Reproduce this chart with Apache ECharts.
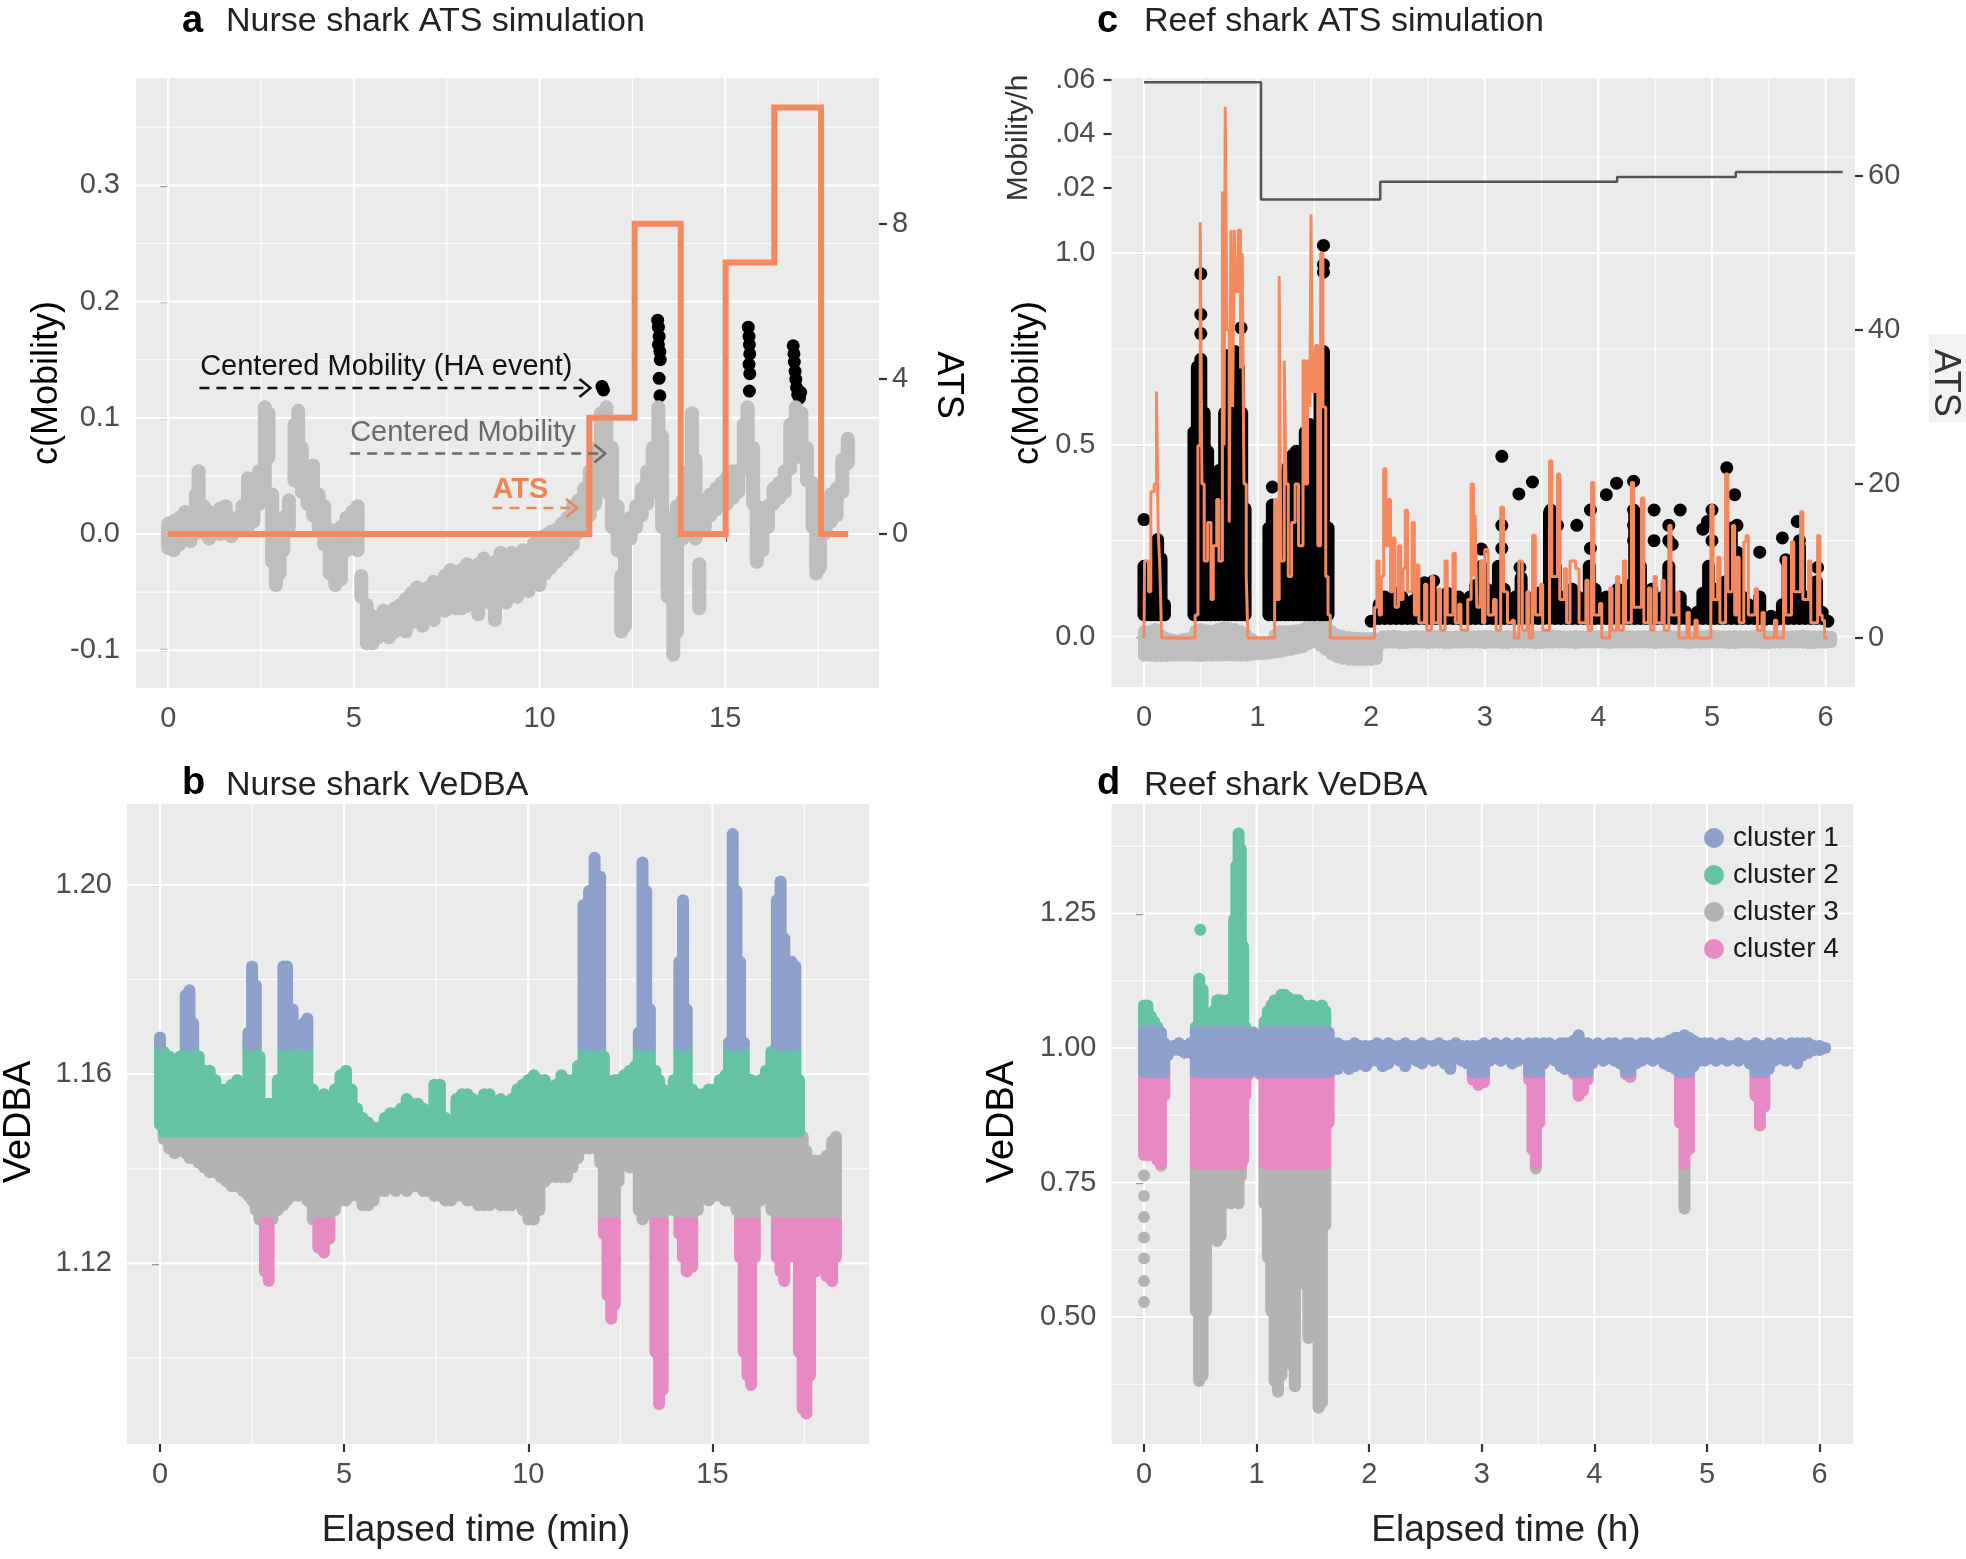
<!DOCTYPE html>
<html><head><meta charset="utf-8">
<script src="https://cdn.jsdelivr.net/npm/echarts@6/dist/echarts.min.js"></script>
<style>html,body{margin:0;padding:0;background:#fff}#c{width:1966px;height:1559px}</style>
</head><body><div id="c"></div>
<script>
// ================= DATA =================
// Panel a: nurse shark ATS simulation (time in min)
const NURSE_X_TICKS = [0, 5, 10, 15];
const NURSE_X_MINOR = [2.5, 7.5, 12.5, 17.5];
const NURSE_MOB_TICKS = [-0.1, 0, 0.1, 0.2, 0.3];
const NURSE_MOB_MINOR = [-0.05, 0.05, 0.15, 0.25, 0.35];
const NURSE_ATS_TICKS = [-4, 0, 4, 8];
// ATS step changes [time, new ATS value]
const NURSE_ATS_STEPS = [[0,0],[11.34,3],[12.56,8],[13.80,0],[15.01,7],[16.32,11],[17.58,0],[18.31,0]];
// Centered mobility (grey) columns [time, low, high]
const NURSE_GREY_COLS = [
[0.0,-0.018,0.015],[0.15,-0.02,0.017],[0.3,-0.015,0.02],[0.45,-0.01,0.025],[0.6,-0.012,0.022],[0.75,-0.005,0.04],[0.82,0.0,0.06],[0.95,-0.005,0.03],[1.1,-0.01,0.025],[1.25,-0.005,0.02],[1.4,-0.006,0.028],[1.55,-0.004,0.03],[1.7,-0.008,0.018],[1.85,-0.002,0.02],[2.0,0.005,0.03],[2.15,0.0,0.054],[2.3,0.005,0.045],[2.45,0.02,0.06],[2.6,0.035,0.115],[2.7,0.06,0.11],[2.8,-0.03,0.04],[2.9,-0.05,0.01],[3.0,-0.04,0.005],[3.1,-0.02,0.02],[3.25,0.0,0.035],[3.4,0.04,0.1],[3.5,0.05,0.112],[3.6,0.03,0.08],[3.75,0.02,0.06],[3.9,0.01,0.065],[4.05,0.0,0.04],[4.2,-0.015,0.03],[4.35,-0.04,0.01],[4.5,-0.05,0.0],[4.65,-0.045,0.012],[4.8,-0.02,0.02],[4.95,-0.01,0.025],[5.1,-0.02,0.03],[5.2,-0.06,-0.03],[5.35,-0.1,-0.055],[5.5,-0.1,-0.065],[5.65,-0.095,-0.07],[5.8,-0.092,-0.06],[5.95,-0.095,-0.065],[6.1,-0.09,-0.058],[6.25,-0.085,-0.055],[6.4,-0.09,-0.05],[6.55,-0.082,-0.045],[6.7,-0.08,-0.04],[6.85,-0.085,-0.05],[7.0,-0.075,-0.04],[7.15,-0.08,-0.035],[7.3,-0.07,-0.038],[7.45,-0.072,-0.03],[7.6,-0.065,-0.025],[7.75,-0.07,-0.03],[7.9,-0.07,-0.025],[8.05,-0.068,-0.02],[8.2,-0.06,-0.025],[8.35,-0.075,-0.02],[8.5,-0.06,-0.015],[8.65,-0.065,-0.02],[8.8,-0.08,-0.018],[8.95,-0.06,-0.01],[9.1,-0.065,-0.015],[9.25,-0.055,-0.01],[9.4,-0.06,-0.012],[9.55,-0.05,-0.008],[9.7,-0.055,-0.01],[9.85,-0.045,-0.002],[10.0,-0.05,-0.005],[10.15,-0.04,0.005],[10.3,-0.035,0.008],[10.45,-0.03,0.01],[10.6,-0.025,0.015],[10.75,-0.02,0.02],[10.9,-0.015,0.03],[11.05,-0.005,0.035],[11.2,0.0,0.045],[11.35,0.01,0.06],[11.5,0.02,0.08],[11.65,0.04,0.11],[11.8,0.03,0.115],[11.95,0.0,0.08],[12.1,-0.02,0.03],[12.2,-0.09,-0.03],[12.3,-0.085,0.0],[12.45,-0.01,0.02],[12.6,0.0,0.03],[12.75,0.01,0.045],[12.9,0.02,0.06],[13.05,0.03,0.08],[13.2,0.05,0.115],[13.3,0.0,0.09],[13.45,-0.06,0.02],[13.6,-0.11,-0.02],[13.7,-0.09,0.03],[13.85,-0.01,0.035],[14.0,0.0,0.06],[14.1,0.04,0.11],[14.2,-0.01,0.07],[14.3,-0.07,-0.02],[14.45,0.0,0.035],[14.6,0.01,0.04],[14.75,0.015,0.045],[14.9,0.02,0.05],[15.05,0.02,0.055],[15.2,0.025,0.06],[15.35,0.03,0.06],[15.5,0.05,0.1],[15.6,0.06,0.115],[15.75,0.02,0.08],[15.85,-0.03,0.03],[16.0,-0.02,0.02],[16.15,0.0,0.03],[16.3,0.02,0.045],[16.45,0.025,0.05],[16.6,0.03,0.06],[16.75,0.05,0.1],[16.9,0.07,0.115],[17.05,0.06,0.11],[17.2,0.04,0.08],[17.35,0.0,0.05],[17.45,-0.04,0.01],[17.55,-0.035,0.0],[17.7,-0.005,0.03],[17.85,0.005,0.04],[18.0,0.01,0.045],[18.15,0.03,0.07],[18.3,0.055,0.088]
];
// Centered mobility during HA events (black points) [time, value, value]
const NURSE_HA_POINTS = [
[11.68,0.127,0.127],[11.72,0.124,0.124],[13.18,0.184,0.184],[13.2,0.178,0.178],[13.22,0.17,0.17],[13.2,0.163,0.163],[13.24,0.157,0.157],[13.25,0.15,0.15],[13.22,0.134,0.134],[13.24,0.119,0.119],
[15.62,0.178,0.178],[15.64,0.17,0.17],[15.65,0.163,0.163],[15.66,0.155,0.155],[15.64,0.146,0.146],[15.66,0.138,0.138],[15.65,0.123,0.123],
[16.83,0.162,0.162],[16.85,0.155,0.155],[16.86,0.148,0.148],[16.88,0.14,0.14],[16.9,0.133,0.133],[16.92,0.126,0.126],[16.95,0.12,0.12],[17.0,0.117,0.117],[17.03,0.122,0.122]
];

// Panel b: nurse shark VeDBA columns [time, low, high]
const NURSE_VEDBA_TICKS = [1.12, 1.16, 1.20];
const NURSE_VEDBA_MINOR = [1.10, 1.14, 1.18];
const NURSE_CLUSTER_BANDS = {'cluster 1':[1.1662,9],'cluster 2':[1.1478,1.1662],'cluster 3':[1.1285,1.1478],'cluster 4':[-9,1.1285]};
const NURSE_VEDBA_COLS = [
[0.0,1.148,1.169],[0.1,1.145,1.166],[0.25,1.143,1.165],[0.4,1.142,1.164],[0.55,1.143,1.165],[0.7,1.142,1.178],[0.8,1.141,1.179],[0.9,1.141,1.172],[1.05,1.14,1.165],[1.2,1.139,1.162],[1.35,1.138,1.162],[1.5,1.138,1.16],[1.65,1.137,1.158],[1.8,1.136,1.158],[1.95,1.135,1.159],[2.1,1.135,1.16],[2.25,1.134,1.158],[2.4,1.133,1.17],[2.5,1.132,1.184],[2.6,1.13,1.18],[2.7,1.128,1.165],[2.85,1.117,1.155],[2.95,1.115,1.155],[3.05,1.128,1.155],[3.2,1.13,1.16],[3.35,1.131,1.184],[3.45,1.132,1.184],[3.6,1.133,1.175],[3.75,1.133,1.165],[3.9,1.134,1.172],[4.0,1.132,1.173],[4.15,1.128,1.158],[4.3,1.122,1.156],[4.45,1.121,1.157],[4.6,1.124,1.156],[4.75,1.13,1.158],[4.9,1.132,1.161],[5.05,1.132,1.162],[5.2,1.133,1.158],[5.35,1.133,1.154],[5.5,1.131,1.152],[5.65,1.131,1.151],[5.8,1.132,1.15],[5.95,1.134,1.15],[6.1,1.134,1.152],[6.25,1.135,1.153],[6.4,1.134,1.153],[6.55,1.135,1.154],[6.7,1.134,1.156],[6.85,1.135,1.155],[7.0,1.135,1.155],[7.15,1.134,1.154],[7.3,1.134,1.152],[7.45,1.133,1.159],[7.6,1.133,1.159],[7.75,1.132,1.152],[7.9,1.132,1.151],[8.05,1.133,1.156],[8.2,1.133,1.157],[8.35,1.132,1.157],[8.5,1.132,1.156],[8.65,1.131,1.155],[8.8,1.131,1.157],[8.95,1.131,1.157],[9.1,1.132,1.155],[9.25,1.131,1.156],[9.4,1.131,1.155],[9.55,1.131,1.156],[9.7,1.132,1.158],[9.85,1.13,1.159],[10.0,1.128,1.16],[10.15,1.128,1.161],[10.3,1.13,1.16],[10.45,1.136,1.16],[10.6,1.137,1.158],[10.75,1.137,1.159],[10.9,1.137,1.161],[11.05,1.137,1.16],[11.2,1.139,1.16],[11.35,1.141,1.163],[11.5,1.143,1.197],[11.65,1.143,1.2],[11.8,1.143,1.207],[11.95,1.14,1.203],[12.05,1.125,1.165],[12.15,1.112,1.16],[12.25,1.107,1.158],[12.35,1.11,1.16],[12.45,1.136,1.16],[12.6,1.14,1.161],[12.75,1.139,1.162],[12.9,1.139,1.163],[13.0,1.13,1.17],[13.1,1.128,1.206],[13.2,1.129,1.2],[13.3,1.13,1.175],[13.45,1.1,1.162],[13.55,1.089,1.16],[13.65,1.092,1.158],[13.8,1.13,1.156],[13.95,1.13,1.16],[14.1,1.125,1.185],[14.2,1.12,1.198],[14.3,1.117,1.175],[14.45,1.118,1.158],[14.6,1.13,1.157],[14.75,1.133,1.157],[14.9,1.132,1.158],[15.05,1.133,1.158],[15.2,1.133,1.16],[15.35,1.132,1.161],[15.45,1.132,1.168],[15.55,1.132,1.212],[15.65,1.13,1.2],[15.75,1.12,1.185],[15.85,1.1,1.168],[15.95,1.095,1.16],[16.05,1.093,1.16],[16.15,1.12,1.158],[16.3,1.132,1.16],[16.45,1.133,1.162],[16.6,1.13,1.166],[16.75,1.12,1.198],[16.85,1.117,1.202],[16.95,1.115,1.19],[17.05,1.12,1.175],[17.15,1.127,1.185],[17.25,1.12,1.184],[17.35,1.1,1.16],[17.45,1.088,1.148],[17.55,1.087,1.145],[17.65,1.095,1.143],[17.8,1.117,1.143],[17.95,1.118,1.143],[18.1,1.116,1.144],[18.25,1.115,1.147],[18.35,1.12,1.148]
];

// Panel c: reef shark ATS simulation (time in h)
const REEF_X_TICKS = [0, 1, 2, 3, 4, 5, 6];
const REEF_X_MINOR = [0.5, 1.5, 2.5, 3.5, 4.5, 5.5];
const REEF_MOB_TICKS = [0, 0.5, 1.0];
const REEF_MOB_MINOR = [0.25, 0.75, 1.25];
const REEF_ATS_TICKS = [0, 20, 40, 60];
const REEF_RATE_TICKS = [0.02, 0.04, 0.06];
// Mobility per hour steps [time, value]
const REEF_RATE_STEPS = [[0,0.0592],[1.03,0.0156],[2.08,0.0222],[4.165,0.0239],[5.21,0.0258],[6.15,0.0258]];
// ATS steps [time, new ATS value]
const REEF_ATS_STEPS = [
[0,0],[0.005,10],[0.04,6],[0.06,19],[0.09,20],[0.11,32],[0.125,14],[0.14,9],[0.155,0],
[0.45,3],[0.475,25],[0.495,54],[0.51,20],[0.53,10],[0.56,15],[0.59,5],[0.61,12],[0.64,18],[0.66,10],[0.69,58],[0.705,25],[0.715,69],[0.73,40],[0.75,15],[0.765,53],[0.78,30],[0.795,53],[0.81,45],[0.83,53],[0.85,35],[0.865,50],[0.88,20],[0.9,8],[0.915,0],
[1.15,18],[1.17,5],[1.19,47],[1.205,10],[1.235,36],[1.25,20],[1.27,8],[1.3,15],[1.33,20],[1.36,12],[1.4,36],[1.42,20],[1.44,36],[1.46,30],[1.47,55],[1.485,32],[1.51,38],[1.53,12],[1.555,50],[1.575,30],[1.6,8],[1.62,3],[1.64,0],
[2.0,0],[2.03,4],[2.05,10],[2.07,3],[2.09,8],[2.11,22],[2.13,12],[2.15,18],[2.17,6],[2.19,13],[2.21,4],[2.24,12],[2.26,5],[2.28,9],[2.3,16.6],[2.32,6],[2.36,15],[2.38,3],[2.4,9.5],[2.42,2],[2.47,7],[2.49,1],[2.53,8],[2.55,2],[2.59,6.4],[2.61,1],[2.65,10],[2.67,3],[2.72,11],[2.74,2],[2.77,4.4],[2.79,1],[2.85,5],[2.88,20],[2.9,8],[2.915,16],[2.93,4],[2.96,10],[2.98,2],
[3.0,11.5],[3.03,3],[3.076,5],[3.1,1],[3.14,17],[3.165,6],[3.2,2],[3.24,2.3],[3.26,0],[3.3,10],[3.33,1],[3.37,6],[3.39,0],[3.42,13.3],[3.445,3],[3.49,7],[3.51,1],[3.57,23],[3.59,8],[3.64,21.3],[3.66,5],[3.7,9],[3.72,2],[3.75,10],[3.8,9],[3.83,2],[3.89,7.5],[3.91,1],[3.94,20.2],[3.96,3],[4.01,4.5],[4.03,0],[4.1,6.5],[4.12,1],[4.16,8],[4.18,1],[4.22,10],[4.24,2],[4.29,20.2],[4.31,4],[4.38,18.2],[4.4,2],[4.44,6.5],[4.46,1],[4.49,8],[4.51,2],[4.56,7.5],[4.58,1],[4.62,14.6],[4.64,3],[4.69,5.9],[4.71,0],[4.78,3.3],[4.8,0],[4.85,2.3],[4.87,0],[4.99,17.2],[5.01,5],[5.05,10.5],[5.07,2],[5.12,21.3],[5.14,6],[5.18,14.6],[5.2,3],[5.22,10.5],[5.24,2],[5.28,12.5],[5.3,13.3],[5.32,3],[5.38,6.4],[5.4,1],[5.44,3.3],[5.46,0],[5.55,2.3],[5.57,0],[5.63,10.5],[5.65,3],[5.7,12.5],[5.72,6],[5.78,16.4],[5.8,5],[5.85,10],[5.87,2],[5.93,13.3],[5.95,3],[5.97,2.3],[5.99,0],[6.02,0]
];
// Centered mobility (grey) columns [time, low, high]
const REEF_GREY_COLS = [
[0.0,-0.066,0.03],[0.05,-0.066,0.03],[0.1,-0.067,0.035],[0.15,-0.067,0.02],[0.2,-0.067,0.012],[0.25,-0.066,0.008],[0.3,-0.066,0.006],[0.35,-0.066,0.01],[0.4,-0.066,0.012],[0.45,-0.066,0.03],[0.5,-0.067,0.035],[0.55,-0.066,0.032],[0.6,-0.066,0.03],[0.65,-0.065,0.035],[0.7,-0.065,0.04],[0.75,-0.065,0.038],[0.8,-0.066,0.035],[0.85,-0.066,0.03],[0.9,-0.066,0.02],[0.95,-0.064,0.01],[1.0,-0.062,0.002],[1.05,-0.061,0.002],[1.1,-0.06,0.002],[1.15,-0.058,0.02],[1.2,-0.056,0.03],[1.25,-0.053,0.03],[1.3,-0.05,0.03],[1.35,-0.047,0.032],[1.4,-0.044,0.035],[1.45,-0.035,0.06],[1.5,-0.03,0.078],[1.55,-0.04,0.065],[1.6,-0.05,0.05],[1.65,-0.062,0.03],[1.7,-0.07,0.02],[1.75,-0.074,0.017],[1.8,-0.076,0.015],[1.85,-0.077,0.013],[1.9,-0.077,0.012],[1.95,-0.077,0.012],[2.0,-0.077,0.012],[2.05,-0.074,0.01],
[2.1,-0.033,0.016],[2.15,-0.032,0.017],[2.2,-0.032,0.018],[2.25,-0.033,0.016],[2.3,-0.033,0.015],[2.35,-0.032,0.016],[2.4,-0.031,0.017],[2.45,-0.032,0.016],[2.5,-0.033,0.016],[2.55,-0.032,0.017],[2.6,-0.032,0.018],[2.65,-0.033,0.016],[2.7,-0.033,0.015],[2.75,-0.032,0.016],[2.8,-0.032,0.017],[2.85,-0.031,0.016],[2.9,-0.031,0.016],[2.95,-0.032,0.017],[3.0,-0.033,0.018],[3.05,-0.032,0.017],[3.1,-0.032,0.016],[3.15,-0.033,0.016],[3.2,-0.033,0.017],[3.25,-0.032,0.016],[3.3,-0.031,0.015],[3.35,-0.032,0.016],[3.4,-0.032,0.017],[3.45,-0.033,0.016],[3.5,-0.033,0.016],[3.55,-0.032,0.017],[3.6,-0.032,0.018],[3.65,-0.031,0.017],[3.7,-0.031,0.016],[3.75,-0.032,0.016],[3.8,-0.033,0.017],[3.85,-0.032,0.016],[3.9,-0.032,0.015],[3.95,-0.031,0.016],[4.0,-0.031,0.017],[4.05,-0.032,0.016],[4.1,-0.033,0.016],[4.15,-0.032,0.017],[4.2,-0.032,0.018],[4.25,-0.032,0.017],[4.3,-0.032,0.016],[4.35,-0.031,0.016],[4.4,-0.031,0.017],[4.45,-0.032,0.016],[4.5,-0.033,0.016],[4.55,-0.032,0.017],[4.6,-0.032,0.018],[4.65,-0.031,0.017],[4.7,-0.031,0.016],[4.75,-0.032,0.016],[4.8,-0.033,0.017],[4.85,-0.032,0.016],[4.9,-0.032,0.016],[4.95,-0.031,0.017],[5.0,-0.031,0.018],[5.05,-0.032,0.017],[5.1,-0.032,0.016],[5.15,-0.033,0.016],[5.2,-0.033,0.017],[5.25,-0.032,0.016],[5.3,-0.031,0.016],[5.35,-0.032,0.017],[5.4,-0.032,0.018],[5.45,-0.033,0.017],[5.5,-0.033,0.016],[5.55,-0.032,0.016],[5.6,-0.032,0.017],[5.65,-0.031,0.016],[5.7,-0.031,0.016],[5.75,-0.032,0.017],[5.8,-0.032,0.018],[5.85,-0.033,0.017],[5.9,-0.033,0.016],[5.95,-0.032,0.016],[6.0,-0.032,0.017],[6.05,-0.03,0.015]
];
// Centered mobility during HA events (black) [time, low, high]; single points have low == high
const REEF_HA_COLS = [
[0.0,0.04,0.2],[0.03,0.04,0.15],[0.06,0.04,0.17],[0.09,0.04,0.2],[0.12,0.04,0.27],[0.15,0.04,0.22],[0.18,0.04,0.1],[0.0,0.305,0.305],
[0.44,0.04,0.55],[0.47,0.04,0.72],[0.5,0.04,0.74],[0.53,0.04,0.6],[0.56,0.04,0.5],[0.59,0.04,0.3],[0.5,0.946,0.946],[0.5,0.84,0.84],[0.5,0.79,0.79],
[0.63,0.04,0.38],[0.66,0.04,0.45],
[0.71,0.04,0.6],[0.74,0.04,0.75],[0.77,0.04,0.72],[0.8,0.04,0.76],[0.83,0.04,0.72],[0.86,0.04,0.6],[0.89,0.04,0.35],[0.855,0.805,0.805],
[1.1,0.04,0.3],[1.13,0.04,0.36],[1.17,0.04,0.25],[1.2,0.04,0.3],[1.24,0.04,0.44],[1.27,0.04,0.46],[1.31,0.04,0.49],[1.34,0.04,0.5],[1.38,0.04,0.46],[1.42,0.04,0.55],[1.46,0.04,0.57],[1.5,0.04,0.56],[1.55,0.04,0.75],[1.58,0.04,0.76],[1.62,0.04,0.3],[1.13,0.39,0.39],[1.58,1.02,1.02],[1.58,0.97,0.97],[1.58,0.95,0.95],
[2.0,0.03,0.05],[2.07,0.03,0.1],[2.12,0.03,0.12],[2.17,0.03,0.1],[2.22,0.03,0.13],[2.27,0.03,0.12],[2.32,0.03,0.09],[2.37,0.03,0.11],[2.42,0.03,0.13],[2.47,0.03,0.1],[2.52,0.03,0.14],[2.57,0.03,0.12],[2.62,0.03,0.1],[2.67,0.03,0.13],[2.72,0.03,0.1],[2.77,0.03,0.12],[2.82,0.03,0.09],[2.87,0.03,0.12],[2.92,0.03,0.15],[2.97,0.03,0.2],[3.02,0.03,0.14],[3.07,0.03,0.12],[3.12,0.03,0.2],[3.17,0.03,0.14],[3.22,0.03,0.1],[3.27,0.03,0.12],[3.32,0.03,0.17],[3.37,0.03,0.12],[3.42,0.03,0.1],[3.47,0.03,0.13],[3.52,0.03,0.1],[3.57,0.03,0.34],[3.62,0.03,0.2],[3.67,0.03,0.12],[3.72,0.03,0.1],[3.77,0.03,0.14],[3.82,0.03,0.12],[3.87,0.03,0.1],[3.92,0.03,0.2],[3.97,0.03,0.14],[4.02,0.03,0.1],[4.07,0.03,0.12],[4.12,0.03,0.11],[4.17,0.03,0.14],[4.22,0.03,0.13],[4.27,0.03,0.15],[4.32,0.03,0.34],[4.37,0.03,0.2],[4.42,0.03,0.12],[4.47,0.03,0.14],[4.52,0.03,0.1],[4.57,0.03,0.12],[4.62,0.03,0.2],[4.67,0.03,0.1],[4.72,0.03,0.12],[4.77,0.03,0.08],[4.82,0.03,0.06],[4.87,0.03,0.08],[4.92,0.03,0.13],[4.97,0.03,0.2],[5.02,0.03,0.14],[5.07,0.03,0.1],[5.12,0.03,0.16],[5.17,0.03,0.3],[5.22,0.03,0.22],[5.27,0.03,0.12],[5.32,0.03,0.1],[5.37,0.03,0.08],[5.42,0.03,0.12],[5.47,0.03,0.06],[5.52,0.03,0.07],[5.57,0.03,0.06],[5.62,0.03,0.1],[5.67,0.03,0.2],[5.72,0.03,0.14],[5.77,0.03,0.25],[5.82,0.03,0.12],[5.87,0.03,0.1],[5.92,0.03,0.16],[5.97,0.03,0.08],[6.02,0.03,0.05],
[2.47,0.14,0.14],[2.55,0.145,0.145],[2.97,0.228,0.228],[3.15,0.47,0.47],[3.15,0.29,0.29],[3.15,0.23,0.23],[3.30,0.372,0.372],[3.31,0.18,0.18],[3.42,0.403,0.403],[3.58,0.33,0.33],[3.58,0.29,0.29],[3.58,0.25,0.25],[3.64,0.29,0.29],[3.81,0.29,0.29],[3.93,0.33,0.33],[3.93,0.23,0.23],[4.07,0.37,0.37],[4.16,0.40,0.40],[4.31,0.405,0.405],[4.31,0.33,0.33],[4.31,0.29,0.29],[4.31,0.25,0.25],[4.49,0.33,0.33],[4.49,0.25,0.25],[4.62,0.29,0.29],[4.62,0.25,0.25],[4.65,0.24,0.24],[4.72,0.33,0.33],[4.92,0.28,0.28],[4.96,0.30,0.30],[5.0,0.33,0.33],[5.0,0.25,0.25],[5.13,0.44,0.44],[5.2,0.37,0.37],[5.22,0.29,0.29],[5.22,0.22,0.22],[5.42,0.22,0.22],[5.62,0.257,0.257],[5.65,0.2,0.2],[5.75,0.30,0.30],[5.77,0.25,0.25],[5.93,0.18,0.18]
];

// Panel d: reef shark VeDBA columns [time, low, high]; single points have low == high
const REEF_VEDBA_TICKS = [0.5, 0.75, 1.0, 1.25];
const REEF_VEDBA_MINOR = [0.375, 0.625, 0.875, 1.125, 1.375];
const REEF_CLUSTER_BANDS = {'cluster 2':[1.03,9],'cluster 1':[0.955,1.03],'cluster 4':[0.785,0.955],'cluster 3':[-9,0.785]};
const REEF_VEDBA_COLS = [
[0.0,0.79,1.09],[0.03,0.79,1.09],[0.06,0.79,1.07],[0.09,0.8,1.06],[0.12,0.78,1.05],[0.15,0.77,1.04],[0.18,0.9,1.02],
[0.0,0.763,0.763],[0.0,0.725,0.725],[0.0,0.686,0.686],[0.0,0.648,0.648],[0.0,0.609,0.609],[0.0,0.567,0.567],[0.0,0.528,0.528],
[0.21,0.975,1.015],[0.26,0.985,1.015],[0.31,0.985,1.02],[0.36,0.98,1.015],[0.41,0.98,1.02],
[0.46,0.5,1.05],[0.49,0.37,1.14],[0.5,1.22,1.22],[0.52,0.38,1.12],[0.55,0.5,1.06],[0.58,0.72,1.04],
[0.62,0.75,1.08],[0.65,0.63,1.1],[0.68,0.64,1.1],[0.71,0.7,1.09],[0.74,0.78,1.1],[0.77,0.7,1.1],
[0.8,0.75,1.25],[0.82,0.72,1.35],[0.84,0.7,1.41],[0.86,0.75,1.38],[0.88,0.78,1.2],[0.9,0.9,1.05],
[0.93,0.94,1.03],[0.97,0.95,1.04],[1.0,0.955,1.02],[1.03,0.94,1.03],
[1.07,0.7,1.06],[1.1,0.6,1.08],[1.13,0.5,1.09],[1.16,0.37,1.1],[1.19,0.35,1.1],[1.22,0.38,1.11],[1.25,0.5,1.11],[1.28,0.55,1.105],[1.31,0.4,1.1],[1.34,0.36,1.1],[1.37,0.6,1.1],[1.4,0.62,1.09],[1.43,0.55,1.09],[1.46,0.45,1.085],[1.49,0.6,1.09],[1.52,0.5,1.085],[1.55,0.32,1.08],[1.58,0.33,1.09],[1.61,0.66,1.08],[1.64,0.85,1.04],
[1.68,0.95,1.02],[1.72,0.95,1.02],[1.77,0.96,1.015],[1.82,0.95,1.015],[1.87,0.955,1.02],[1.92,0.96,1.015],[1.97,0.955,1.015],[2.02,0.965,1.015],
[2.07,0.965,1.02],[2.12,0.955,1.015],[2.17,0.96,1.02],[2.22,0.97,1.015],[2.27,0.965,1.015],[2.32,0.955,1.02],[2.37,0.97,1.015],[2.42,0.965,1.015],[2.47,0.96,1.02],[2.52,0.97,1.015],[2.57,0.965,1.015],[2.62,0.97,1.02],[2.67,0.96,1.015],[2.72,0.95,1.015],[2.77,0.97,1.02],[2.82,0.965,1.015],[2.87,0.96,1.015],[2.92,0.93,1.015],[2.97,0.92,1.015],[3.02,0.925,1.02],[3.07,0.965,1.015],
[3.12,0.97,1.02],[3.17,0.965,1.015],[3.22,0.97,1.02],[3.27,0.96,1.015],[3.32,0.965,1.02],[3.37,0.97,1.015],[3.42,0.93,1.02],[3.45,0.8,1.015],[3.48,0.765,1.02],[3.51,0.85,1.015],[3.55,0.96,1.02],[3.6,0.97,1.02],[3.65,0.965,1.015],[3.7,0.955,1.02],[3.74,0.95,1.02],[3.78,0.965,1.02],[3.82,0.94,1.025],[3.86,0.9,1.035],[3.9,0.91,1.02],[3.94,0.93,1.02],[3.98,0.96,1.015],[4.03,0.97,1.02],[4.08,0.965,1.015],[4.13,0.97,1.02],[4.18,0.965,1.02],[4.23,0.96,1.015],[4.28,0.94,1.02],[4.32,0.935,1.02],[4.37,0.96,1.015],[4.42,0.965,1.02],[4.47,0.97,1.02],[4.52,0.965,1.015],[4.57,0.97,1.02],[4.62,0.96,1.02],[4.67,0.955,1.025],[4.72,0.95,1.03],[4.76,0.85,1.03],[4.8,0.69,1.035],[4.84,0.8,1.03],[4.88,0.955,1.025],[4.93,0.965,1.02],[4.98,0.965,1.02],[5.03,0.97,1.02],[5.08,0.965,1.015],[5.13,0.97,1.02],[5.18,0.965,1.015],[5.23,0.97,1.015],[5.28,0.965,1.02],[5.33,0.97,1.015],[5.38,0.96,1.015],[5.43,0.9,1.02],[5.47,0.845,1.015],[5.51,0.88,1.015],[5.55,0.95,1.02],[5.6,0.965,1.015],[5.65,0.97,1.02],[5.7,0.965,1.015],[5.75,0.97,1.02],[5.8,0.96,1.02],[5.85,0.975,1.02],[5.9,0.98,1.02],[5.95,0.985,1.015],[6.0,0.985,1.015],[6.05,0.99,1.01]
];

// ================= STYLE / LAYOUT =================
const FONT = '"Liberation Sans", Arial, Helvetica, sans-serif';
const CLUSTER_COLORS = {'cluster 1':'#8DA0CB','cluster 2':'#66C2A5','cluster 3':'#B3B3B3','cluster 4':'#E78AC3'};
const ORANGE = '#F4895F';
const PANEL_BG = '#EBEBEB';
const A_XR = [-0.867, 19.14], A_YR = [-0.1325, 0.3924], A_Y2R = [-3.97, 11.76];
const B_XR = [-0.896, 19.25], B_YR = [1.0818, 1.2171];
const C_XR = [-0.286, 6.259], C_YR = [-0.1317, 1.4567], C_Y2R = [-6.36, 72.73], C_Y3R = [-0.16565, 0.06074];
const D_XR = [-0.289, 6.297], D_YR = [0.264, 1.4535];

const NURSE_NOTES = [
  {text:'Centered Mobility (HA event)', color:'#111111', bold:false, tx:0.86, ty:0.1437, x0:0.84, x1:11.37, y:0.1256},
  {text:'Centered Mobility', color:'#6a6a6a', bold:false, tx:4.9, ty:0.0869, x0:4.9, x1:11.77, y:0.0693},
  {text:'ATS', color:'#EE8558', bold:true, tx:8.73, ty:0.0379, x0:8.73, x1:11.01, y:0.0224}
];

function gridLines(xi, yi, xr, yr, xMaj, xMin, yMaj, yMin) {
  const data = [].concat(yMin.map(v => [v, 0]), yMaj.map(v => [v, 1]), xMin.map(v => [v, 2]), xMaj.map(v => [v, 3]));
  return {
    type: 'custom', xAxisIndex: xi, yAxisIndex: yi, silent: true, z: 1, data, clip: false,
    renderItem(params, api) {
      const v = api.value(0), k = api.value(1), cs = params.coordSys;
      const w = (k === 1 || k === 3) ? 2.2 : 1.1;
      if (k < 2) {
        const y = api.coord([xr[0], v])[1];
        return {type: 'line', shape: {x1: cs.x, y1: y, x2: cs.x + cs.width, y2: y}, style: {stroke: '#fff', lineWidth: w}};
      }
      const x = api.coord([v, yr[0]])[0];
      return {type: 'line', shape: {x1: x, y1: cs.y, x2: x, y2: cs.y + cs.height}, style: {stroke: '#fff', lineWidth: w}};
    }
  };
}

function colSeries(name, xi, yi, cols, band, color, size, z) {
  const r = size / 2;
  return {
    type: 'custom', name, xAxisIndex: xi, yAxisIndex: yi, data: cols, z, silent: true, clip: true,
    itemStyle: {color},
    renderItem(params, api) {
      const t = api.value(0), lo = api.value(1), hi = api.value(2);
      const pLo = api.coord([t, lo]), pHi = api.coord([t, hi]);
      const x = pLo[0];
      let yA = pLo[1] - r, yB = pHi[1] + r;
      if (yA < yB) { yA = yB = (yA + yB) / 2; }
      const bBot = api.coord([t, band[0]])[1], bTop = api.coord([t, band[1]])[1];
      const bottom = Math.min(yA, bBot), top = Math.max(yB, bTop);
      if (bottom < top) return null;
      if (bottom - top < 0.5) return {type: 'circle', shape: {cx: x, cy: (bottom + top) / 2, r}, style: {fill: color}};
      return {type: 'line', shape: {x1: x, y1: bottom, x2: x, y2: top}, style: {stroke: color, lineWidth: size, lineCap: 'round'}};
    }
  };
}

function axisBase(gi, range, ticks, fmt, margin, extra) {
  return Object.assign({
    type: 'value', gridIndex: gi, min: range[0], max: range[1],
    axisLine: {show: false}, splitLine: {show: false}, minorSplitLine: {show: false},
    axisTick: {show: true, customValues: ticks, length: 8, lineStyle: {color: '#333', width: 2.2}},
    axisLabel: {show: true, customValues: ticks, formatter: fmt, color: '#4d4d4d', fontSize: 29, fontFamily: FONT, margin}
  }, extra || {});
}
const fInt = v => String(Math.round(v));
const f1 = v => v.toFixed(1);
const f2 = v => v.toFixed(2);
const fRate = v => v.toFixed(2).replace(/^0\./, '.');

const chart = echarts.init(document.getElementById('c'), null, {renderer: 'canvas'});

const series = [];
// ---- panel a
series.push(gridLines(0, 0, A_XR, A_YR, NURSE_X_TICKS, NURSE_X_MINOR, NURSE_MOB_TICKS, NURSE_MOB_MINOR));
series.push(colSeries('HA event', 0, 0, NURSE_HA_POINTS, [-9, 9], '#000000', 13, 3));
series.push(colSeries('Centered Mobility', 0, 0, NURSE_GREY_COLS, [-9, 9], '#BEBEBE', 14, 4));
series.push({type: 'line', name: 'ATS', xAxisIndex: 0, yAxisIndex: 1, step: 'end', data: NURSE_ATS_STEPS, symbol: 'none', z: 5, silent: true,
  lineStyle: {color: ORANGE, width: 6, join: 'miter'}});
series.push({
  type: 'custom', xAxisIndex: 0, yAxisIndex: 0, z: 10, silent: true, clip: false,
  data: NURSE_NOTES.map((n, i) => [n.tx, n.ty, i]),
  renderItem(params, api) {
    const n = NURSE_NOTES[api.value(2)];
    const pt = api.coord([n.tx, n.ty]);
    const a0 = api.coord([n.x0, n.y]), a1 = api.coord([n.x1, n.y]);
    const y = a0[1];
    return {type: 'group', children: [
      {type: 'text', x: pt[0], y: pt[1], style: {text: n.text, fill: n.color, font: (n.bold ? 'bold ' : '') + '29px ' + FONT, textAlign: 'left', textVerticalAlign: 'middle'}},
      {type: 'line', shape: {x1: a0[0], y1: y, x2: a1[0] - 3, y2: y}, style: {stroke: n.color, lineWidth: 2.5, lineDash: [10, 7]}},
      {type: 'polyline', shape: {points: [[a1[0] - 11, y - 9], [a1[0], y], [a1[0] - 11, y + 9]]}, style: {stroke: n.color, lineWidth: 2.5, fill: null}}
    ]};
  }
});
// ---- panel b
series.push(gridLines(1, 2, B_XR, B_YR, NURSE_X_TICKS, NURSE_X_MINOR, NURSE_VEDBA_TICKS, NURSE_VEDBA_MINOR));
['cluster 3', 'cluster 4', 'cluster 2', 'cluster 1'].forEach((c, i) => {
  series.push(colSeries(c, 1, 2, NURSE_VEDBA_COLS, NURSE_CLUSTER_BANDS[c], CLUSTER_COLORS[c], 12, 3 + i));
});
// ---- panel c
series.push(gridLines(2, 3, C_XR, C_YR, REEF_X_TICKS, REEF_X_MINOR, REEF_MOB_TICKS, REEF_MOB_MINOR));
series.push(colSeries('Centered Mobility c', 2, 3, REEF_GREY_COLS, [-9, 9], '#BEBEBE', 12, 3));
series.push(colSeries('HA event c', 2, 3, REEF_HA_COLS, [-9, 9], '#000000', 13, 4));
series.push({type: 'line', name: 'ATS c', xAxisIndex: 2, yAxisIndex: 4, step: 'end', data: REEF_ATS_STEPS, symbol: 'none', z: 5, silent: true,
  lineStyle: {color: ORANGE, width: 3}});
series.push({type: 'line', name: 'Mobility/h', xAxisIndex: 2, yAxisIndex: 5, step: 'end', data: REEF_RATE_STEPS, symbol: 'none', z: 5, silent: true,
  lineStyle: {color: '#555555', width: 2.5}});
// ---- panel d
series.push(gridLines(3, 6, D_XR, D_YR, REEF_X_TICKS, REEF_X_MINOR, REEF_VEDBA_TICKS, REEF_VEDBA_MINOR));
['cluster 3', 'cluster 4', 'cluster 2', 'cluster 1'].forEach((c, i) => {
  series.push(colSeries(c, 3, 6, REEF_VEDBA_COLS, REEF_CLUSTER_BANDS[c], CLUSTER_COLORS[c], 12, 3 + i));
});

const gridBase = {show: true, backgroundColor: PANEL_BG, borderWidth: 0, containLabel: false};
function txt(text, x, y, size, opts) {
  opts = opts || {};
  return {type: 'text', x, y, rotation: opts.rot || 0, z: 100,
    style: {text, fill: opts.color || '#111', font: (opts.bold ? 'bold ' : '') + size + 'px ' + FONT,
      textAlign: opts.align || 'center', textVerticalAlign: 'middle'}};
}

chart.setOption({
  animation: false,
  backgroundColor: '#ffffff',
  grid: [
    Object.assign({left: 136, top: 78, width: 743, height: 610}, gridBase),
    Object.assign({left: 127, top: 804, width: 742, height: 640}, gridBase),
    Object.assign({left: 1111.5, top: 78, width: 743.5, height: 609}, gridBase),
    Object.assign({left: 1111.5, top: 804, width: 741.5, height: 640}, gridBase)
  ],
  xAxis: [
    axisBase(0, A_XR, NURSE_X_TICKS, fInt, 16, {position: 'bottom'}),
    axisBase(1, B_XR, NURSE_X_TICKS, fInt, 16, {position: 'bottom'}),
    axisBase(2, C_XR, REEF_X_TICKS, fInt, 16, {position: 'bottom'}),
    axisBase(3, D_XR, REEF_X_TICKS, fInt, 16, {position: 'bottom'})
  ],
  yAxis: [
    axisBase(0, A_YR, NURSE_MOB_TICKS, f1, 16, {position: 'left'}),
    axisBase(0, A_Y2R, NURSE_ATS_TICKS, fInt, 13, {position: 'right'}),
    axisBase(1, B_YR, NURSE_VEDBA_TICKS, f2, 15, {position: 'left'}),
    axisBase(2, C_YR, REEF_MOB_TICKS, f1, 16, {position: 'left'}),
    axisBase(2, C_Y2R, REEF_ATS_TICKS, fInt, 13, {position: 'right'}),
    axisBase(2, C_Y3R, REEF_RATE_TICKS, fRate, 16, {position: 'left', offset: 0}),
    axisBase(3, D_YR, REEF_VEDBA_TICKS, f2, 15, {position: 'left'})
  ],
  legend: {
    show: true, orient: 'vertical', left: 1699, top: 819, itemWidth: 20, itemHeight: 20, itemGap: 9,
    icon: 'circle', selectedMode: false,
    data: ['cluster 1', 'cluster 2', 'cluster 3', 'cluster 4'],
    textStyle: {fontSize: 28, color: '#1a1a1a', fontFamily: FONT, padding: [0, 0, 0, 4]}
  },
  graphic: {elements: [
    {type: 'rect', shape: {x: 1929, y: 334, width: 37, height: 88}, style: {fill: '#F2F2F2'}, z: 50},
    txt('a', 182, 22, 38, {bold: true, align: 'left', color: '#000'}),
    txt('Nurse shark ATS simulation', 226, 22, 34, {align: 'left', color: '#222'}),
    txt('b', 182, 784, 38, {bold: true, align: 'left', color: '#000'}),
    txt('Nurse shark VeDBA', 226, 786, 34, {align: 'left', color: '#222'}),
    txt('c', 1097, 22, 38, {bold: true, align: 'left', color: '#000'}),
    txt('Reef shark ATS simulation', 1144, 22, 34, {align: 'left', color: '#222'}),
    txt('d', 1097, 784, 38, {bold: true, align: 'left', color: '#000'}),
    txt('Reef shark VeDBA', 1144, 786, 34, {align: 'left', color: '#222'}),
    txt('c(Mobility)', 47, 383, 36, {rot: Math.PI / 2, color: '#000'}),
    txt('ATS', 948, 385, 36, {rot: -Math.PI / 2, color: '#000'}),
    txt('VeDBA', 20, 1122, 38, {rot: Math.PI / 2, color: '#000'}),
    txt('Elapsed time (min)', 476, 1531, 37, {color: '#222'}),
    txt('c(Mobility)', 1028, 383, 36, {rot: Math.PI / 2, color: '#000'}),
    txt('Mobility/h', 1019, 138, 30, {rot: Math.PI / 2, color: '#333'}),
    txt('ATS', 1945, 383, 36, {rot: -Math.PI / 2, color: '#333'}),
    txt('VeDBA', 1003, 1122, 38, {rot: Math.PI / 2, color: '#000'}),
    txt('Elapsed time (h)', 1506, 1531, 37, {color: '#222'})
  ]},
  series
});
</script>
</body></html>
